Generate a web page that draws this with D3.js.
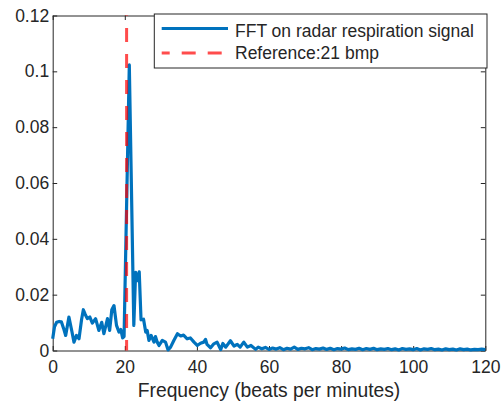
<!DOCTYPE html>
<html>
<head>
<meta charset="utf-8">
<script src="https://cdn.jsdelivr.net/npm/d3@7"></script>
<style>
    body { margin: 0; background: #fff; }
    #chart text { font-family: "Liberation Sans", Arial, sans-serif; fill: #262626; }
</style>
</head>
<body>
<div id="chart"></div>
<script>
// FFT spectrum (bpm, amplitude)
const lowFreq = [0, 0.5, 1.1, 1.8, 2.4, 3.0, 3.6, 4.5, 5.3, 5.9, 6.6, 7.3, 8.0, 8.5, 9.0, 9.6,
    10.3, 11.0, 11.9, 12.8, 13.6, 14.2, 15.2, 15.8, 16.4, 17.0, 17.7, 18.4, 18.9, 19.4, 19.8,
    21.25, 22.5, 23.0, 23.5, 24.0, 24.5, 25.2, 25.8, 26.2, 26.7, 27.3, 28.1, 28.5, 29.0, 29.5,
    30.4, 31.3, 32.0, 32.7, 33.6, 34.6, 35.5, 36.3, 37.3, 38.2, 39.2, 40.1, 41.0, 41.9, 42.4,
    42.8, 43.8, 44.7, 45.6, 46.6, 47.2, 48.0, 49.3, 50.3, 51.2, 52.0, 53.0, 54.0, 55.0, 56.3, 57.0];
const lowAmp = [0.0042, 0.0085, 0.0101, 0.0104, 0.0103, 0.0080, 0.0054, 0.0120, 0.0070, 0.0030,
    0.0054, 0.0042, 0.0110, 0.0146, 0.0130, 0.0114, 0.0120, 0.0098, 0.0114, 0.0072, 0.0101,
    0.0060, 0.0114, 0.0072, 0.0146, 0.0161, 0.0090, 0.0066, 0.0075, 0.0045, 0.0050,
    0.1023, 0.0090, 0.0280, 0.0250, 0.0282, 0.0110, 0.0112, 0.0066, 0.0072, 0.0036, 0.0054,
    0.0030, 0.0050, 0.0030, 0.0018, 0.0036, 0.0030, 0.0002, 0.0012, 0.0036, 0.0060, 0.0052,
    0.0055, 0.0042, 0.0045, 0.0030, 0.0018, 0.0026, 0.0030, 0.0040, 0.0022, 0.0010, 0.0024,
    0.0030, 0.0003, 0.0025, 0.0012, 0.0035, 0.0016, 0.0022, 0.0012, 0.0030, 0.0012, 0.0018,
    0.0004, 0.0012];
// tail, one bin per bpm from 58 to 120
const tailStart = 58;
const tailAmp = [0.0006, 0.0011, 0.0004, 0.0009, 0.0005, 0.0010, 0.0003, 0.0008, 0.0005, 0.0012,
    0.0004, 0.0008, 0.0006, 0.0010, 0.0003, 0.0007, 0.0005, 0.0009, 0.0004, 0.0008,
    0.0003, 0.0007, 0.0005, 0.0009, 0.0003, 0.0006, 0.0004, 0.0008, 0.0003, 0.0007,
    0.0004, 0.0008, 0.0003, 0.0006, 0.0004, 0.0007, 0.0003, 0.0006, 0.0002, 0.0007,
    0.0004, 0.0006, 0.0003, 0.0007, 0.0002, 0.0006, 0.0004, 0.0007, 0.0003, 0.0005,
    0.0002, 0.0006, 0.0003, 0.0005, 0.0002, 0.0006, 0.0003, 0.0005, 0.0002, 0.0004,
    0.0003, 0.0005, 0.0003];
const refBpm = 20.5;
const xTicks = [0, 20, 40, 60, 80, 100, 120];
const yTicks = [0, 0.02, 0.04, 0.06, 0.08, 0.1, 0.12];
const legendLabels = ["FFT on radar respiration signal", "Reference:21 bmp"];

const W = 501, H = 405;
const plot = { left: 52.7, right: 485.3, top: 15.5, bottom: 350.5 };
const ink = "#262626";
const blue = "#0072BD";

const spectrum = lowFreq.map((f, i) => ({ f, v: lowAmp[i] }))
    .concat(tailAmp.map((v, i) => ({ f: tailStart + i, v })));

const svg = d3.select("#chart").append("svg")
    .attr("width", W)
    .attr("height", H);

const x = d3.scaleLinear().domain([0, 120]).range([plot.left, plot.right]);
const y = d3.scaleLinear().domain([0, 0.12]).range([plot.bottom, plot.top]);

// axes, ticks pointing inward, mirrored on top/right
const fmt = d => String(+d.toFixed(2));
const styleAxis = g => {
    g.select(".domain").attr("stroke", ink).attr("stroke-width", 1);
    g.selectAll(".tick line").attr("stroke", ink).attr("stroke-width", 1);
    g.selectAll(".tick text").attr("font-size", "17.5px").attr("fill", ink);
};

svg.append("g")
    .attr("transform", `translate(0,${plot.bottom})`)
    .call(d3.axisBottom(x).tickValues(xTicks).tickFormat(fmt).tickSizeInner(-4.5).tickSizeOuter(0).tickPadding(10.4))
    .call(styleAxis);
svg.append("g")
    .attr("transform", `translate(${plot.left},0)`)
    .call(d3.axisLeft(y).tickValues(yTicks).tickFormat(fmt).tickSizeInner(-4.5).tickSizeOuter(0).tickPadding(3.5))
    .call(styleAxis);
svg.append("g")
    .attr("transform", `translate(0,${plot.top})`)
    .call(d3.axisTop(x).tickValues(xTicks).tickFormat("").tickSizeInner(-4.5).tickSizeOuter(0))
    .call(styleAxis);
svg.append("g")
    .attr("transform", `translate(${plot.right},0)`)
    .call(d3.axisRight(y).tickValues(yTicks).tickFormat("").tickSizeInner(-4.5).tickSizeOuter(0))
    .call(styleAxis);

// spectrum line
svg.append("path")
    .datum(spectrum)
    .attr("fill", "none")
    .attr("stroke", blue)
    .attr("stroke-width", 3.2)
    .attr("stroke-linejoin", "round")
    .attr("d", d3.line().x(d => x(d.f)).y(d => y(d.v)));

// reference line (semi-transparent red on top)
svg.append("line")
    .attr("x1", x(refBpm)).attr("x2", x(refBpm))
    .attr("y1", y(0.12)).attr("y2", y(0))
    .attr("stroke", "red")
    .attr("stroke-opacity", 0.7)
    .attr("stroke-width", 3)
    .attr("stroke-dasharray", "14,12")
    .attr("stroke-dashoffset", 13.5);

// x label
svg.append("text")
    .attr("x", (plot.left + plot.right) / 2)
    .attr("y", 396.5)
    .attr("text-anchor", "middle")
    .attr("font-size", "19.3px")
    .text("Frequency (beats per minutes)");

// legend
const legend = svg.append("g");
legend.append("rect")
    .attr("x", 154.3).attr("y", 14)
    .attr("width", 332.7).attr("height", 54)
    .attr("fill", "#fff")
    .attr("stroke", ink)
    .attr("stroke-width", 1);
legend.append("line")
    .attr("x1", 161.7).attr("x2", 228)
    .attr("y1", 28.5).attr("y2", 28.5)
    .attr("stroke", blue)
    .attr("stroke-width", 3.2);
legend.append("line")
    .attr("x1", 161.7).attr("x2", 228)
    .attr("y1", 53).attr("y2", 53)
    .attr("stroke", "red")
    .attr("stroke-opacity", 0.7)
    .attr("stroke-width", 3)
    .attr("stroke-dasharray", "14,12")
    .attr("stroke-dashoffset", 6);
legend.selectAll("text.lbl")
    .data(legendLabels)
    .enter().append("text")
    .attr("class", "lbl")
    .attr("x", 235)
    .attr("y", (d, i) => 36.8 + i * 22.4)
    .attr("font-size", "17.5px")
    .text(d => d);
</script>
</body>
</html>
